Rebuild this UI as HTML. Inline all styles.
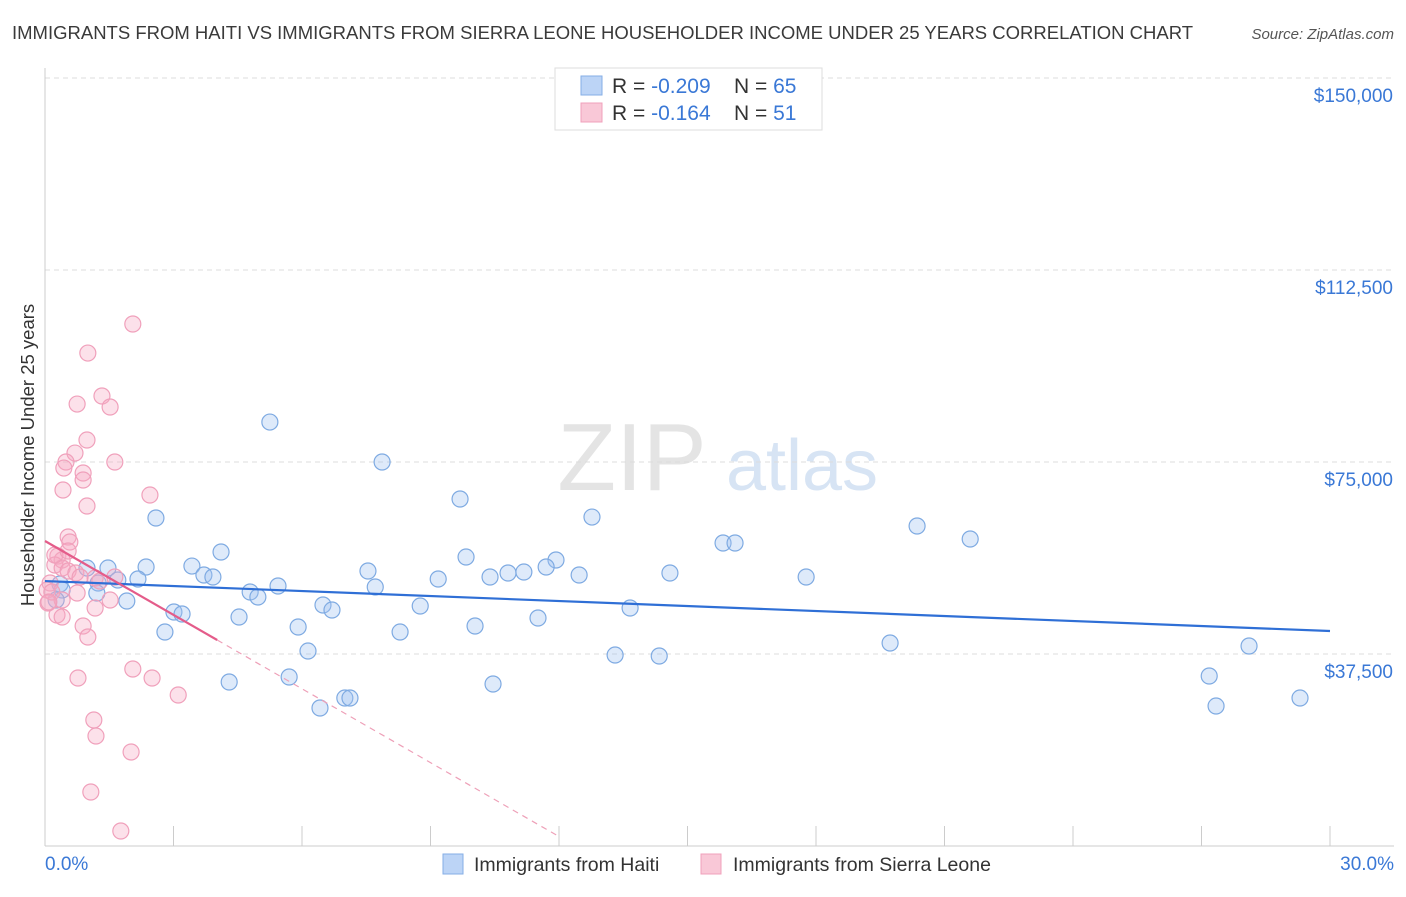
<!DOCTYPE html>
<html><head><meta charset="utf-8"><style>
body{margin:0;background:#fff;font-family:"Liberation Sans",sans-serif;}
svg text{font-family:"Liberation Sans",sans-serif;}
</style></head><body>
<svg id="chart" width="1406" height="892" xmlns="http://www.w3.org/2000/svg">
<text x="12" y="39" font-size="18.5" fill="#3a3a3a">IMMIGRANTS FROM HAITI VS IMMIGRANTS FROM SIERRA LEONE HOUSEHOLDER INCOME UNDER 25 YEARS CORRELATION CHART</text>
<text x="1394" y="39" font-size="15" font-style="italic" fill="#555" text-anchor="end">Source: ZipAtlas.com</text>
<g>
<text x="632" y="490" font-size="96" font-family="Liberation Serif" fill="#e4e4e4" text-anchor="middle">ZIP</text>
<text x="802" y="490" font-size="72" fill="#d7e4f4" text-anchor="middle">atlas</text>
</g>
<g id="grid"></g>
<g id="axes"></g>
<g id="pts"></g>
<g id="lines"></g>
<g>
<rect x="555" y="68" width="267" height="62" fill="#fff" stroke="#ddd"/>
<rect x="581" y="76" width="21" height="19" fill="#bcd4f6" stroke="#85aee6"/>
<rect x="581" y="103" width="21" height="19" fill="#f9c8d7" stroke="#f0a0bb"/>
<text x="612" y="93" font-size="21" fill="#333">R = <tspan fill="#3a78d6">-0.209</tspan></text>
<text x="734" y="93" font-size="21" fill="#333">N = <tspan fill="#3a78d6">65</tspan></text>
<text x="612" y="120" font-size="21" fill="#333">R = <tspan fill="#3a78d6"> -0.164</tspan></text>
<text x="734" y="120" font-size="21" fill="#333">N = <tspan fill="#3a78d6"> 51</tspan></text>
</g>
<text transform="translate(34,455) rotate(-90)" font-size="18.5" fill="#333" text-anchor="middle">Householder Income Under 25 years</text>
<text x="45" y="870" font-size="19" fill="#3a78d6">0.0%</text>
<text x="1394" y="870" font-size="19" fill="#3a78d6" text-anchor="end">30.0%</text>
<g><rect x="443" y="854" width="20" height="20" fill="#bcd4f6" stroke="#85aee6"/><text x="474" y="871" font-size="19.5" fill="#333">Immigrants from Haiti</text></g>
<g><rect x="701" y="854" width="20" height="20" fill="#f9c8d7" stroke="#f0a0bb"/><text x="733" y="871" font-size="19.5" fill="#333">Immigrants from Sierra Leone</text></g>
</svg>
<script>
const yTicks=[37500,75000,112500,150000];
const yTickLabels=["$37,500","$75,000","$112,500","$150,000"];
const haitiX=[5.25,7.87,9.69,2.59,12.77,20.36,21.6,15.83,16.11,4.11,9.83,11.93,11.70,2.36,1.47,3.43,0.98,7.54,14.59,11.18,10.81,10.39,12.47,9.18,17.77,3.71,3.92,2.17,1.70,0.35,1.24,5.44,4.79,7.71,4.97,0.40,1.21,1.91,8.76,6.49,6.70,13.66,3.01,3.20,4.53,11.51,0.26,5.91,10.04,2.80,8.29,6.14,13.31,14.34,19.73,28.11,5.70,4.30,10.46,6.42,7.00,7.12,27.18,27.34,29.30];
const haitiY=[82800,75000,67770,64060,64250,62500,59960,59180,59180,57420,56440,55860,54490,54490,54290,54680,54290,53710,53320,53510,53320,52540,52930,52150,52540,52930,52540,52150,51950,51170,51360,50780,49610,50580,48630,50000,49410,47850,46870,47070,46090,46480,45700,45310,44720,44530,48040,42770,42970,41790,41790,38080,37300,37110,39650,39060,33010,32030,31640,26950,28900,28900,33200,27340,28900];
const sierraX=[2.05,1.00,1.33,1.52,0.75,0.98,0.70,0.49,0.44,0.89,1.63,0.89,0.42,2.45,0.98,0.54,0.58,0.30,0.40,0.23,0.40,0.54,0.72,0.82,1.17,1.28,1.63,0.12,0.05,0.75,1.52,0.07,1.17,0.28,0.40,0.89,1.00,2.05,0.77,2.50,3.11,1.14,1.19,2.01,1.07,1.77,0.16,0.23,0.54,0.40,0.09];
const sierraY=[101950,96280,87890,85740,86320,79290,76750,75000,73820,72850,75000,71480,69530,68550,66400,60350,59370,56640,55860,54880,54290,53710,53320,52540,52340,51750,52540,51360,50000,49410,48040,47460,46480,45110,44720,42970,40820,34570,32810,32810,29490,24610,21480,18360,10550,2930,49610,56830,57610,48040,47650];
const haitiTrend=[51750,41990];
const sierraTrend=[59570,-4810];
const sierraSolidEnd=4.02, sierraDashEnd=12.03;
const X=v=>45+v/30*1285, Y=v=>846-v/37500*192;
const NS="http://www.w3.org/2000/svg";
function mk(t,a,p){const e=document.createElementNS(NS,t);for(const k in a)e.setAttribute(k,a[k]);p.appendChild(e);return e;}
const grid=document.getElementById('grid'),axes=document.getElementById('axes'),pts=document.getElementById('pts'),lines=document.getElementById('lines');
yTicks.forEach((v,i)=>{
 const l=mk('line',{x1:45,x2:1394,y1:Y(v),y2:Y(v),stroke:'#dcdcdc','stroke-dasharray':'5,4'},grid);
 
 
 const t=mk('text',{x:1393,y:Y(v)+24,'font-size':19,fill:'#3a78d6','text-anchor':'end'},grid);
 t.textContent=yTickLabels[i];
 
 
});
const ax=mk('line',{x1:45,x2:45,y1:68,y2:846,stroke:'#ccc'},axes);


const bx=mk('line',{x1:45,x2:1394,y1:846,y2:846,stroke:'#ccc'},axes);


for(let i=0;i<=10;i++){const t=mk('line',{x1:X(i*3),x2:X(i*3),y1:826,y2:846,stroke:'#ccc'},axes);
 
 }
haitiX.forEach((x,i)=>{const c=mk('circle',{cx:X(x),cy:Y(haitiY[i]),r:8,fill:'rgba(160,195,240,0.35)',stroke:'#7eaae2','stroke-width':1.2},pts);
 
 });
sierraX.forEach((x,i)=>{const c=mk('circle',{cx:X(x),cy:Y(sierraY[i]),r:8,fill:'rgba(245,170,195,0.35)',stroke:'#f0a0bb','stroke-width':1.2},pts);
 
 });
const hl=mk('line',{x1:X(0),y1:Y(haitiTrend[0]),x2:X(30),y2:Y(haitiTrend[1]),stroke:'#2f6fd6','stroke-width':2.2},lines);


const sy=x=>sierraTrend[0]+sierraTrend[1]*x;
const sl=mk('line',{x1:X(0),y1:Y(sy(0)),x2:X(sierraSolidEnd),y2:Y(sy(sierraSolidEnd)),stroke:'#e45c8a','stroke-width':2.2},lines);


const sd=mk('line',{x1:X(sierraSolidEnd),y1:Y(sy(sierraSolidEnd)),x2:X(sierraDashEnd),y2:Y(sy(sierraDashEnd)),stroke:'#eea0b8','stroke-width':1.2,'stroke-dasharray':'6,5'},lines);


</script>
</body></html>
